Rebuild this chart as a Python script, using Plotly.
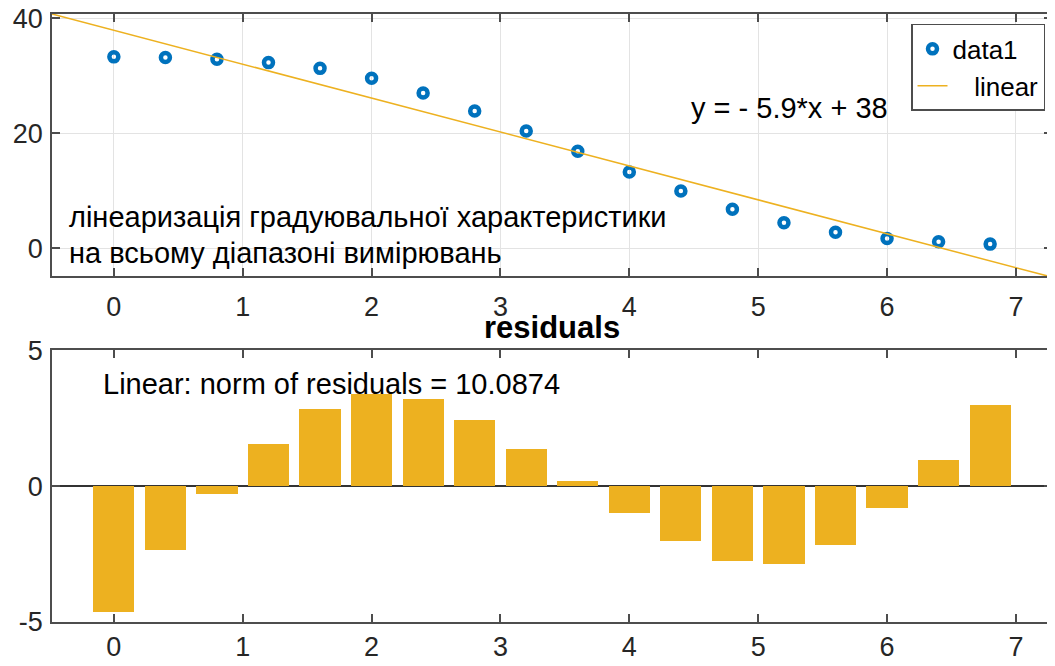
import numpy as np
import plotly.graph_objects as go
from plotly.subplots import make_subplots

# ---- data ----
x_vals = [0.0, 0.4, 0.8, 1.2, 1.6, 2.0, 2.4, 2.8, 3.2, 3.6, 4.0, 4.4, 4.8, 5.2, 5.6, 6.0, 6.4, 6.8]
y_vals = [33.3, 33.2, 32.9, 32.3, 31.3, 29.6, 27.0, 23.9, 20.4, 16.9, 13.3, 10.0, 6.8, 4.45, 2.8, 1.74, 1.15, 0.75]
residuals = [-4.65, -2.36, -0.28, 1.53, 2.83, 3.38, 3.19, 2.43, 1.37, 0.18, -1.01, -2.04, -2.75, -2.86, -2.17, -0.83, 0.95, 2.98]
x_ticks = [0, 1, 2, 3, 4, 5, 6, 7]
y_ticks_top = [0, 20, 40]
y_ticks_bot = [-5, 0, 5]
y_ticktext_bot = ["-5", "0", "5"]
fit_label = "y = - 5.9*x + 38"
norm_label = "Linear: norm of residuals = 10.0874"
note_line1 = "лінеаризація градуювальної характеристики"
note_line2 = "на всьому діапазоні вимірювань"

XR = [-0.48, 7.28]
YR_TOP = [-4.8, 40.75]
YR_BOT = [-5, 5]

slope, intercept = np.polyfit(x_vals, y_vals, 1)
x_line = np.array(XR)
y_line = slope * x_line + intercept

BLUE = "#0072BD"
GOLD = "#EDB120"
AX = "#4d4d4d"
TXT = "#262626"
FONT = "Liberation Sans, Arial, sans-serif"

fig = make_subplots(rows=2, cols=1, vertical_spacing=0.0)

fig.add_trace(go.Scatter(x=x_vals, y=y_vals, mode="markers", name="data1",
                         marker=dict(symbol="circle-open", size=9, color=BLUE,
                                     line=dict(width=4.5, color=BLUE))),
              row=1, col=1)
fig.add_trace(go.Scatter(x=x_line, y=y_line, mode="lines", name="\u00a0\u00a0\u00a0linear",
                         line=dict(color=GOLD, width=1.5)),
              row=1, col=1)
fig.add_trace(go.Bar(x=x_vals, y=residuals, width=0.32, marker_color=GOLD,
                     marker_line_width=0, showlegend=False),
              row=2, col=1)

common = dict(showline=True, linecolor=AX, linewidth=1.5, mirror="ticks",
              ticks="inside", tickcolor=AX, tickwidth=1.5, ticklen=8, automargin=False,
              ticklabeloverflow="allow",
              tickfont=dict(size=27, color=TXT, family=FONT), zeroline=False)

fig.update_xaxes(range=XR, tickvals=x_ticks, showgrid=True, gridcolor="#e3e3e3",
                 gridwidth=1, ticklabelstandoff=6, **common, row=1, col=1)
fig.update_yaxes(range=YR_TOP, tickvals=y_ticks_top, showgrid=True, gridcolor="#e3e3e3",
                 gridwidth=1, ticklabelstandoff=2, **common, row=1, col=1)
fig.update_xaxes(range=XR, tickvals=x_ticks, showgrid=False, ticklabelstandoff=0,
                 **common, row=2, col=1)
c2 = dict(common)
c2["zeroline"] = True
fig.update_yaxes(range=YR_BOT, tickvals=y_ticks_bot, ticktext=y_ticktext_bot,
                 showgrid=False, ticklabelstandoff=2,
                 zerolinecolor="#333333", zerolinewidth=1.5,
                 **c2, row=2, col=1)

fig.update_layout(
    xaxis=dict(domain=[0, 1]),
    yaxis=dict(domain=[0.569, 1.0]),
    xaxis2=dict(domain=[0, 1]),
    yaxis2=dict(domain=[0.0, 0.447]),
)

ann_font = dict(size=29, color="#000000", family=FONT)
fig.add_annotation(x=4.46, y=24.4, xref="x", yref="y", text=fit_label, showarrow=False,
                   xanchor="left", yanchor="middle", font=ann_font)
fig.add_annotation(x=-0.36, y=5.4, xref="x", yref="y", text=note_line1, showarrow=False,
                   xanchor="left", yanchor="middle", font=ann_font)
fig.add_annotation(x=-0.36, y=-0.8, xref="x", yref="y", text=note_line2, showarrow=False,
                   xanchor="left", yanchor="middle", font=ann_font)
fig.add_annotation(x=-0.1, y=3.76, xref="x2", yref="y2", text=norm_label, showarrow=False,
                   xanchor="left", yanchor="middle", font=ann_font)
fig.add_annotation(x=0.5, y=0.485, xref="paper", yref="paper", text="<b>residuals</b>",
                   showarrow=False, xanchor="center", yanchor="middle",
                   font=dict(size=31, color="#000000", family=FONT))

fig.update_layout(
    width=1047, height=658,
    margin=dict(l=44, r=3, t=6, b=44, autoexpand=False),
    paper_bgcolor="white", plot_bgcolor="white",
    font=dict(family=FONT, color=TXT),
    legend=dict(x=0.859, y=0.9836, xanchor="left", yanchor="top",
                bordercolor=AX, borderwidth=1.5, bgcolor="white",
                font=dict(size=26, color="#000000", family=FONT),
                tracegroupgap=0, itemwidth=30),
    bargap=0,
)

fig.write_html("out.html")
